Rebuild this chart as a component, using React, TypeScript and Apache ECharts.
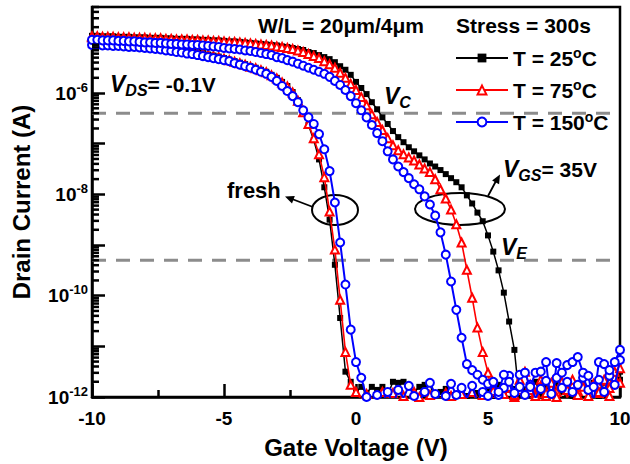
import React, { useEffect, useRef } from 'react';
import * as echarts from 'echarts';

// Gate voltage sweep (V)
const gateVoltage = [-10,-9.8,-9.6,-9.4,-9.2,-9,-8.8,-8.6,-8.4,-8.2,-8,-7.8,-7.6,-7.4,-7.2,-7,-6.8,-6.6,-6.4,-6.2,-6,-5.8,-5.6,-5.4,-5.2,-5,-4.8,-4.6,-4.4,-4.2,-4,-3.8,-3.6,-3.4,-3.2,-3,-2.8,-2.6,-2.4,-2.2,-2,-1.8,-1.6,-1.4,-1.2,-1,-0.8,-0.6,-0.4,-0.2,0,0.2,0.4,0.6,0.8,1,1.2,1.4,1.6,1.8,2,2.2,2.4,2.6,2.8,3,3.2,3.4,3.6,3.8,4,4.2,4.4,4.6,4.8,5,5.2,5.4,5.6,5.8,6,6.2,6.4,6.6,6.8,7,7.2,7.4,7.6,7.8,8,8.2,8.4,8.6,8.8,9,9.2,9.4,9.6,9.8,10];

// Drain current, as log10(I / A)
const fresh25Exp = [
-4.89,-4.89,-4.90,-4.91,-4.92,-4.93,-4.94,-4.95,-4.96,-4.98,
-4.99,-5.01,-5.02,-5.04,-5.05,-5.07,-5.10,-5.12,-5.15,-5.17,
-5.19,-5.21,-5.24,-5.26,-5.28,-5.31,-5.34,-5.37,-5.40,-5.43,
-5.47,-5.50,-5.54,-5.58,-5.64,-5.70,-5.78,-5.86,-5.98,-6.14,
-6.36,-6.63,-6.93,-7.31,-7.86,-8.50,-9.39,-10.44,-11.50,-11.70,
-11.90,-11.80,-11.92,-11.80,-11.86,-11.80,-11.96,-11.70,-11.72,-11.70,
-11.80,-11.90,-11.80,-11.76,-11.74,-12.06,-11.90,-11.84,-11.96,-12.10,
-11.88,-11.98,-12.14,-11.92,-12.02,-11.86,-11.98,-11.76,-11.94,-12.08,
-11.84,-11.92,-12.04,-11.80,-11.96,-11.74,-11.90,-12.06,-11.82,-11.78,
-11.94,-11.86,-12.02,-11.76,-11.88,-11.80,-11.98,-11.72,-11.84,-11.78,
-11.66];

const fresh75Exp = [
-4.90,-4.90,-4.91,-4.92,-4.93,-4.94,-4.95,-4.96,-4.97,-4.99,
-5.00,-5.02,-5.03,-5.05,-5.06,-5.08,-5.11,-5.13,-5.16,-5.18,
-5.20,-5.22,-5.25,-5.27,-5.29,-5.32,-5.35,-5.38,-5.41,-5.44,
-5.48,-5.51,-5.55,-5.59,-5.65,-5.71,-5.79,-5.87,-5.99,-6.15,
-6.38,-6.61,-6.89,-7.21,-7.66,-8.34,-9.09,-10.08,-11.11,-11.76,
-11.90,-12.06,-11.94,-12.02,-12.16,-11.90,-12.04,-11.92,-12.10,-11.98,
-12.06,-11.90,-12.00,-12.14,-11.96,-12.04,-12.10,-11.92,-11.98,-12.16,
-11.94,-12.02,-11.90,-12.12,-11.96,-12.04,-11.88,-12.10,-11.94,-11.82,
-12.00,-11.86,-12.06,-11.76,-11.92,-11.66,-11.98,-11.82,-11.90,-11.72,
-12.02,-11.78,-11.88,-11.74,-11.98,-11.78,-11.92,-11.68,-11.82,-11.62,
-11.72];

const fresh150Exp = [
-5.05,-5.05,-5.06,-5.06,-5.07,-5.07,-5.08,-5.09,-5.09,-5.10,
-5.11,-5.12,-5.13,-5.14,-5.16,-5.17,-5.19,-5.20,-5.22,-5.23,
-5.25,-5.27,-5.29,-5.31,-5.33,-5.35,-5.37,-5.41,-5.44,-5.47,
-5.50,-5.54,-5.58,-5.62,-5.68,-5.76,-5.86,-5.96,-6.06,-6.18,
-6.34,-6.48,-6.61,-6.81,-7.11,-7.54,-8.16,-8.95,-9.78,-10.67,
-11.31,-11.62,-12.00,-12.06,-11.96,-12.10,-11.90,-12.16,-11.86,-12.02,
-11.78,-11.98,-12.10,-11.90,-11.72,-11.94,-12.06,-11.98,-11.74,-11.96,
-11.82,-12.02,-11.78,-12.10,-11.90,-11.98,-11.72,-11.96,-11.82,-11.58,
-11.92,-11.80,-11.96,-11.76,-12.02,-11.84,-11.68,-11.94,-11.62,-11.82,
-11.70,-11.90,-11.76,-11.62,-11.86,-11.80,-11.66,-11.90,-11.58,-11.76,
-11.27];

const stress25Exp = [
-4.87,-4.87,-4.88,-4.88,-4.88,-4.89,-4.89,-4.89,-4.90,-4.90,
-4.90,-4.91,-4.91,-4.91,-4.92,-4.92,-4.93,-4.93,-4.93,-4.94,
-4.94,-4.95,-4.95,-4.96,-4.96,-4.97,-4.98,-4.98,-4.99,-5.00,
-5.01,-5.02,-5.03,-5.04,-5.05,-5.06,-5.08,-5.09,-5.11,-5.13,
-5.15,-5.19,-5.21,-5.25,-5.29,-5.33,-5.39,-5.47,-5.54,-5.64,
-5.78,-5.90,-6.02,-6.18,-6.32,-6.48,-6.61,-6.75,-6.87,-6.97,
-7.07,-7.15,-7.23,-7.31,-7.39,-7.45,-7.52,-7.60,-7.68,-7.76,
-7.86,-8.02,-8.18,-8.36,-8.53,-8.81,-9.13,-9.50,-9.94,-10.51,
-11.07,-12.10,-11.85,-11.78,-11.70,-11.96,-11.82,-12.02,-11.76,-11.90,
-11.82,-11.98,-11.80,-11.70,-11.84,-11.72,-11.68,-11.86,-11.62,-11.70,
-11.50];

const stress75Exp = [
-4.88,-4.88,-4.89,-4.89,-4.89,-4.90,-4.90,-4.90,-4.91,-4.91,
-4.91,-4.92,-4.92,-4.92,-4.93,-4.93,-4.94,-4.94,-4.94,-4.95,
-4.95,-4.96,-4.96,-4.97,-4.97,-4.98,-4.99,-4.99,-5.00,-5.01,
-5.02,-5.03,-5.04,-5.05,-5.06,-5.08,-5.09,-5.11,-5.13,-5.16,
-5.19,-5.23,-5.27,-5.31,-5.37,-5.43,-5.50,-5.60,-5.70,-5.82,
-5.94,-6.08,-6.24,-6.42,-6.57,-6.73,-6.89,-7.03,-7.13,-7.21,
-7.27,-7.33,-7.41,-7.49,-7.56,-7.70,-7.90,-8.08,-8.30,-8.59,
-8.95,-9.49,-10.04,-10.63,-11.11,-11.52,-12.15,-11.92,-12.02,-11.80,
-11.96,-11.66,-11.50,-11.86,-11.98,-11.78,-11.92,-11.72,-12.00,-11.70,
-11.86,-11.66,-11.96,-11.80,-12.02,-11.74,-11.90,-11.66,-11.98,-11.50,
-11.43];

const stress150Exp = [
-4.95,-4.95,-4.96,-4.96,-4.96,-4.97,-4.97,-4.98,-4.98,-4.99,
-5.00,-5.00,-5.01,-5.01,-5.02,-5.03,-5.03,-5.04,-5.04,-5.05,
-5.05,-5.06,-5.07,-5.08,-5.09,-5.11,-5.12,-5.13,-5.14,-5.16,
-5.17,-5.19,-5.21,-5.23,-5.25,-5.29,-5.31,-5.35,-5.38,-5.42,
-5.46,-5.50,-5.54,-5.58,-5.62,-5.68,-5.76,-5.84,-5.94,-6.06,
-6.20,-6.34,-6.48,-6.63,-6.79,-6.95,-7.15,-7.31,-7.45,-7.56,
-7.68,-7.80,-7.90,-8.04,-8.20,-8.42,-8.75,-9.19,-9.72,-10.28,
-10.83,-11.35,-11.47,-11.56,-11.66,-11.74,-11.70,-11.90,-11.56,-11.70,
-12.06,-11.56,-11.52,-11.80,-11.52,-11.50,-11.31,-12.20,-11.33,-11.52,
-11.37,-11.31,-11.21,-11.52,-11.58,-12.10,-11.31,-11.35,-11.47,-11.31,
-11.07];

// Reference levels (dashed lines), A
const dashedLevels = [4e-7, 5e-10];
const legendNames = ['T = 25°C', 'T = 75°C', 'T = 150°C'];
const xTicks = { min: -10, max: 10, interval: 5 };

const FONT = '"Liberation Sans", Arial, Helvetica, sans-serif';

function toPoints(exps: number[]) {
  return gateVoltage.map((v, i) => [v, Math.pow(10, exps[i])]);
}

// log-style minor ticks on the y axis (2..9 x 10^n)
const minorTickValues: number[] = [];
for (let d = -12; d <= -5; d++) {
  for (let m = 2; m <= 9; m++) {
    const v = m * Math.pow(10, d);
    if (v <= 5e-5) minorTickValues.push(v);
  }
}

const styles: Record<string, any> = {
  black: { symbol: 'rect', symbolSize: 6, itemStyle: { color: '#000' }, lineStyle: { color: '#000', width: 1.5 } },
  red: { symbol: 'emptyTriangle', symbolSize: 8, itemStyle: { color: '#ff0000', borderColor: '#ff0000', borderWidth: 1.1 }, lineStyle: { color: '#ff0000', width: 1.6 } },
  blue: { symbol: 'emptyCircle', symbolSize: 8, itemStyle: { color: '#0000ff', borderColor: '#0000ff', borderWidth: 1.1 }, lineStyle: { color: '#0000ff', width: 2 } },
};

function curve(name: string, exps: number[], st: any, z: number) {
  return {
    type: 'line',
    name,
    data: toPoints(exps),
    showAllSymbol: true,
    symbol: st.symbol,
    symbolSize: st.symbolSize,
    itemStyle: st.itemStyle,
    lineStyle: st.lineStyle,
    z,
    clip: true,
    emphasis: { disabled: true },
  };
}

function arrowHead(tip: [number, number], from: [number, number], len = 9, half = 4) {
  const dx = tip[0] - from[0];
  const dy = tip[1] - from[1];
  const L = Math.sqrt(dx * dx + dy * dy);
  const ux = dx / L, uy = dy / L;
  const px = -uy, py = ux;
  const bx = tip[0] - ux * len, by = tip[1] - uy * len;
  return {
    type: 'polygon',
    shape: { points: [tip, [bx + px * half, by + py * half], [bx - px * half, by - py * half]] },
    style: { fill: '#000' },
    silent: true,
  };
}

function textEl(x: number, y: number, text: string, rich?: any, font?: string) {
  return {
    type: 'text',
    x,
    y,
    silent: true,
    style: {
      text,
      font: font || `bold 21px ${FONT}`,
      fill: '#000',
      align: 'left',
      verticalAlign: 'middle',
      textAlign: 'left',
      textVerticalAlign: 'middle',
      rich,
    },
  };
}

const vRich = {
  v: { fontSize: 23, fontWeight: 'bold', fontStyle: 'italic', fontFamily: FONT, fill: '#000', color: '#000' },
  sub: { fontSize: 16, fontWeight: 'bold', fontStyle: 'italic', fontFamily: FONT, fill: '#000', color: '#000', padding: [13, 0, 0, 0] },
  n: { fontSize: 21, fontWeight: 'bold', fontFamily: FONT, fill: '#000', color: '#000' },
};

export default function App() {
  const ref = useRef<HTMLDivElement>(null);
  useEffect(() => {
    document.body.style.margin = '0';
    if (!ref.current) return;
    const chart = echarts.init(ref.current, undefined, { renderer: 'svg' });
    const option: any = {
      animation: false,
      backgroundColor: '#fff',
      grid: {
        left: 92, right: 10, top: 7, bottom: 67,
        show: true, borderColor: '#000', borderWidth: 2.5, backgroundColor: 'transparent',
        containLabel: false, outerBoundsMode: 'none',
      },
      legend: {
        data: legendNames,
        orient: 'vertical',
        left: 455,
        top: 46,
        padding: 0,
        itemWidth: 52,
        itemHeight: 11,
        itemGap: 8,
        selectedMode: false,
        formatter: (name: string) => `{t|${name.replace('°C', '')}}{s|o}{t|C}`,
        textStyle: {
          color: '#000',
          rich: {
            t: { fontSize: 21, fontWeight: 'bold', fontFamily: FONT, color: '#000', lineHeight: 24 },
            s: { fontSize: 14, fontWeight: 'bold', fontFamily: FONT, color: '#000', lineHeight: 14, padding: [0, 0, 10, 0] },
          },
        },
      },
      xAxis: {
        type: 'value',
        min: xTicks.min,
        max: xTicks.max,
        interval: xTicks.interval,
        name: 'Gate Voltage (V)',
        nameLocation: 'middle',
        nameGap: 38,
        nameTextStyle: { fontSize: 24, fontWeight: 'bold', fontFamily: FONT, color: '#000' },
        axisLine: { onZero: false, lineStyle: { color: '#000', width: 2.5 } },
        axisTick: { inside: true, length: 13, lineStyle: { color: '#000', width: 2.5 } },
        minorTick: { show: true, splitNumber: 2, length: 7, lineStyle: { color: '#000', width: 2.5 } },
        splitLine: { show: false },
        minorSplitLine: { show: false },
        axisLabel: { fontSize: 19, fontWeight: 'bold', fontFamily: FONT, color: '#000', margin: 12 },
      },
      yAxis: {
        type: 'log',
        logBase: 10,
        min: 1e-12,
        max: 5e-5,
        splitNumber: 8,
        name: 'Drain Current (A)',
        nameLocation: 'middle',
        nameGap: 59,
        nameRotate: 90,
        nameTextStyle: { fontSize: 24, fontWeight: 'bold', fontFamily: FONT, color: '#000' },
        axisLine: { onZero: false, lineStyle: { color: '#000', width: 2.5 } },
        axisTick: { inside: true, length: 13, lineStyle: { color: '#000', width: 2.5 } },
        splitLine: { show: false },
        axisLabel: {
          margin: 4,
          showMaxLabel: false,
          formatter: (val: number) => {
            const e = Math.log10(val);
            const r = Math.round(e);
            if (Math.abs(e - r) > 1e-6 || r % 2 !== 0) return '';
            return `{b|10}{s|${r}}`;
          },
          rich: {
            b: { fontSize: 19, fontWeight: 'bold', fontFamily: FONT, color: '#000' },
            s: { fontSize: 13, fontWeight: 'bold', fontFamily: FONT, color: '#000', padding: [0, 0, 12, 0] },
          },
        },
      },
      series: [
        ...dashedLevels.map((lv) => ({
          type: 'line',
          data: [[xTicks.min, lv], [xTicks.max, lv]],
          symbol: 'none',
          lineStyle: { color: '#8c8c8c', width: 3, type: [14, 10] },
          z: 1,
          silent: true,
        })),
        curve(legendNames[0], fresh25Exp, styles.black, 3),
        curve(legendNames[0], stress25Exp, styles.black, 3),
        curve(legendNames[1], fresh75Exp, styles.red, 4),
        curve(legendNames[1], stress75Exp, styles.red, 4),
        curve(legendNames[2], fresh150Exp, styles.blue, 5),
        curve(legendNames[2], stress150Exp, styles.blue, 5),
        {
          type: 'custom',
          coordinateSystem: 'cartesian2d',
          silent: true,
          clip: false,
          z: 10,
          data: minorTickValues.map((v) => [xTicks.min, v]),
          renderItem: (_p: any, api: any) => {
            const pt = api.coord([api.value(0), api.value(1)]);
            return {
              type: 'line',
              shape: { x1: pt[0], y1: pt[1], x2: pt[0] + 7, y2: pt[1] },
              style: { stroke: '#000', lineWidth: 2.5 },
            };
          },
        },
      ],
      graphic: [
        textEl(258, 25, 'W/L = 20μm/4μm'),
        textEl(456, 25, 'Stress = 300s'),
        textEl(110, 84, '{v|V}{sub|DS}{n|= -0.1V}', vRich),
        textEl(384, 96, '{v|V}{sub|C}', vRich),
        textEl(503, 169, '{v|V}{sub|GS}{n|= 35V}', vRich),
        textEl(501, 247, '{v|V}{sub|E}', vRich),
        textEl(227, 190, 'fresh', undefined, `bold 22px ${FONT}`),
        { type: 'ellipse', silent: true, shape: { cx: 335, cy: 210, rx: 23, ry: 15 }, style: { fill: 'none', stroke: '#000', lineWidth: 2 } },
        { type: 'ellipse', silent: true, shape: { cx: 460, cy: 209, rx: 45, ry: 16 }, style: { fill: 'none', stroke: '#000', lineWidth: 2 } },
        { type: 'line', silent: true, shape: { x1: 313, y1: 207, x2: 292, y2: 199 }, style: { stroke: '#000', lineWidth: 1.8 } },
        arrowHead([285, 196.5], [313, 207]),
        { type: 'line', silent: true, shape: { x1: 488, y1: 196, x2: 496, y2: 181 }, style: { stroke: '#000', lineWidth: 1.8 } },
        arrowHead([500, 174.5], [488, 196]),
      ],
    };
    chart.setOption(option);
    return () => chart.dispose();
  }, []);
  return <div ref={ref} style={{ width: 630, height: 464 }} />;
}
